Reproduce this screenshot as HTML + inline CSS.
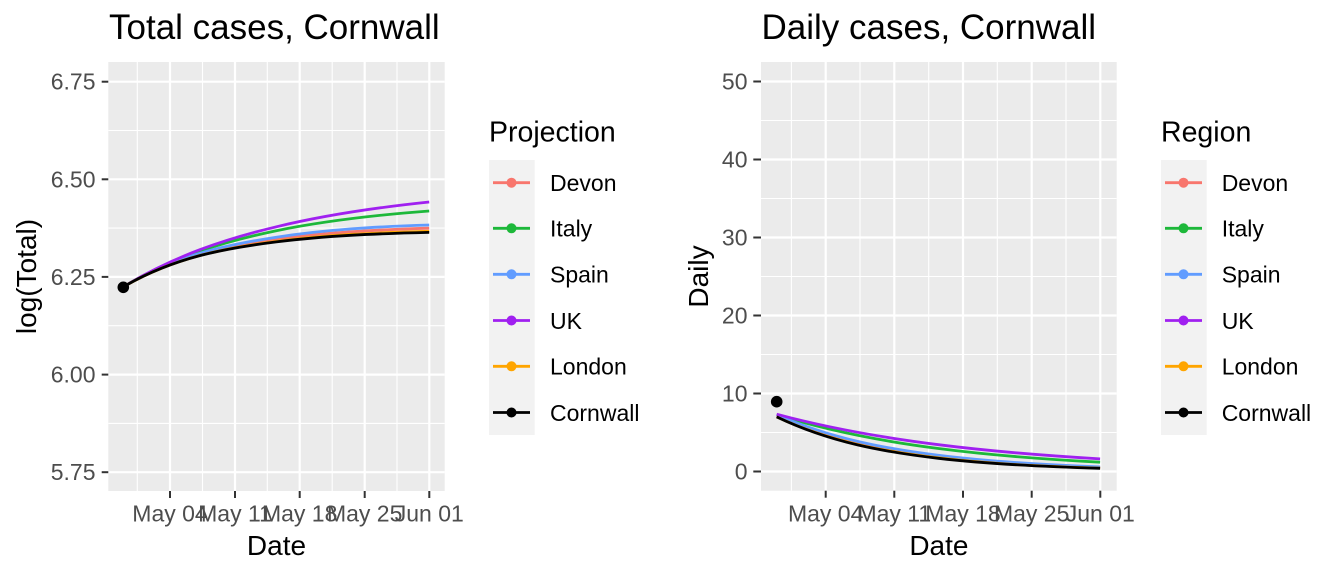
<!DOCTYPE html>
<html><head><meta charset="utf-8">
<style>
html,body{margin:0;padding:0;background:#fff;}
svg{display:block;font-family:"Liberation Sans",Arial,sans-serif;}
</style></head>
<body>
<svg width="1344" height="576" viewBox="0 0 1344 576" xmlns="http://www.w3.org/2000/svg">
<rect width="1344" height="576" fill="#fff"/>

<!-- ============ LEFT PANEL ============ -->
<text x="109" y="39" font-size="35" fill="#000">Total cases, Cornwall</text>
<rect x="108.3" y="62" width="336.4" height="429" fill="#EBEBEB"/>
<g stroke="#fff" stroke-width="1.1" fill="none">
  <line x1="108.3" x2="444.7" y1="130.5" y2="130.5"/>
  <line x1="108.3" x2="444.7" y1="228.1" y2="228.1"/>
  <line x1="108.3" x2="444.7" y1="325.7" y2="325.7"/>
  <line x1="108.3" x2="444.7" y1="423.4" y2="423.4"/>
  <line y1="62" y2="491" x1="137.3" x2="137.3"/>
  <line y1="62" y2="491" x1="202.5" x2="202.5"/>
  <line y1="62" y2="491" x1="267.3" x2="267.3"/>
  <line y1="62" y2="491" x1="332.2" x2="332.2"/>
  <line y1="62" y2="491" x1="397" x2="397"/>
</g>
<g stroke="#fff" stroke-width="2.2" fill="none">
  <line x1="108.3" x2="444.7" y1="81.7" y2="81.7"/>
  <line x1="108.3" x2="444.7" y1="179.3" y2="179.3"/>
  <line x1="108.3" x2="444.7" y1="276.9" y2="276.9"/>
  <line x1="108.3" x2="444.7" y1="374.6" y2="374.6"/>
  <line x1="108.3" x2="444.7" y1="472.2" y2="472.2"/>
  <line y1="62" y2="491" x1="170" x2="170"/>
  <line y1="62" y2="491" x1="235" x2="235"/>
  <line y1="62" y2="491" x1="299.7" x2="299.7"/>
  <line y1="62" y2="491" x1="364.7" x2="364.7"/>
  <line y1="62" y2="491" x1="429.3" x2="429.3"/>
</g>
<g fill="none" stroke-width="2.8" stroke-linecap="butt">
  <path stroke="#F8766D" d="M123.3,286.9 C174.3,256.3 225.3,246.4 276.3,239.3 C327.2,232.2 378.2,229.8 429.2,228.2"/>
  <path stroke="#1DB83A" d="M123.3,286.9 C174.3,255.9 225.3,241.3 276.3,230.7 C327.2,220.3 378.2,214.8 429.2,211.0"/>
  <path stroke="#619CFF" d="M123.3,286.9 C174.3,255.9 225.3,245.0 276.3,237.2 C327.2,229.4 378.2,226.6 429.2,225.0"/>
  <path stroke="#A020F0" d="M123.3,286.9 C174.3,255.7 225.3,239.0 276.3,226.8 C327.2,214.5 378.2,207.3 429.2,202.0"/>
  <path stroke="#FFA500" d="M123.3,286.9 C174.3,257.2 225.3,248.0 276.3,241.4 C327.2,234.7 378.2,232.6 429.2,231.3"/>
  <path stroke="#000000" d="M123.3,286.9 C174.3,257.2 225.3,248.3 276.3,241.9 C327.2,235.5 378.2,233.6 429.2,232.4"/>
</g>
<circle cx="123.3" cy="287.3" r="5.8" fill="#000"/>
<!-- axes ticks -->
<g stroke="#333" stroke-width="2">
  <line x1="101.7" x2="108.3" y1="81.7" y2="81.7"/>
  <line x1="101.7" x2="108.3" y1="179.3" y2="179.3"/>
  <line x1="101.7" x2="108.3" y1="276.9" y2="276.9"/>
  <line x1="101.7" x2="108.3" y1="374.6" y2="374.6"/>
  <line x1="101.7" x2="108.3" y1="472.2" y2="472.2"/>
  <line y1="491" y2="498" x1="170" x2="170"/>
  <line y1="491" y2="498" x1="235" x2="235"/>
  <line y1="491" y2="498" x1="299.7" x2="299.7"/>
  <line y1="491" y2="498" x1="364.7" x2="364.7"/>
  <line y1="491" y2="498" x1="429.3" x2="429.3"/>
</g>
<g font-size="23" fill="#4D4D4D" text-anchor="end">
  <text x="95.5" y="89.7">6.75</text>
  <text x="95.5" y="187.3">6.50</text>
  <text x="95.5" y="284.9">6.25</text>
  <text x="95.5" y="382.6">6.00</text>
  <text x="95.5" y="480.2">5.75</text>
</g>
<g font-size="23" fill="#4D4D4D" text-anchor="middle">
  <text x="170" y="521.7">May 04</text>
  <text x="235" y="521.7">May 11</text>
  <text x="299.7" y="521.7">May 18</text>
  <text x="364.7" y="521.7">May 25</text>
  <text x="429.3" y="521.7">Jun 01</text>
</g>
<text x="276.5" y="555" font-size="28" text-anchor="middle" fill="#000">Date</text>
<text transform="translate(36,276.5) rotate(-90)" font-size="28" text-anchor="middle" fill="#000">log(Total)</text>

<!-- left legend -->
<text x="489" y="141.7" font-size="28.5" fill="#000">Projection</text>
<rect x="489" y="160" width="45.7" height="275" fill="#F2F2F2"/>
<g stroke-width="2.8">
  <line x1="493" x2="530" y1="182.7" y2="182.7" stroke="#F8766D"/>
  <line x1="493" x2="530" y1="228.3" y2="228.3" stroke="#1DB83A"/>
  <line x1="493" x2="530" y1="274.3" y2="274.3" stroke="#619CFF"/>
  <line x1="493" x2="530" y1="320.5" y2="320.5" stroke="#A020F0"/>
  <line x1="493" x2="530" y1="366.3" y2="366.3" stroke="#FFA500"/>
  <line x1="493" x2="530" y1="412.5" y2="412.5" stroke="#000"/>
</g>
<circle cx="511.5" cy="182.7" r="5" fill="#F8766D"/>
<circle cx="511.5" cy="228.3" r="5" fill="#1DB83A"/>
<circle cx="511.5" cy="274.3" r="5" fill="#619CFF"/>
<circle cx="511.5" cy="320.5" r="5" fill="#A020F0"/>
<circle cx="511.5" cy="366.3" r="5" fill="#FFA500"/>
<circle cx="511.5" cy="412.5" r="5" fill="#000"/>
<g font-size="23" fill="#000">
  <text x="550" y="191">Devon</text>
  <text x="550" y="236.6">Italy</text>
  <text x="550" y="282.6">Spain</text>
  <text x="550" y="328.8">UK</text>
  <text x="550" y="374.6">London</text>
  <text x="550" y="420.8">Cornwall</text>
</g>

<!-- ============ RIGHT PANEL ============ -->
<text x="761.5" y="39" font-size="35" fill="#000">Daily cases, Cornwall</text>
<rect x="761" y="62" width="355.7" height="428.7" fill="#EBEBEB"/>
<g stroke="#fff" stroke-width="1.1" fill="none">
  <line x1="761" x2="1116.7" y1="120.5" y2="120.5"/>
  <line x1="761" x2="1116.7" y1="198.5" y2="198.5"/>
  <line x1="761" x2="1116.7" y1="276.5" y2="276.5"/>
  <line x1="761" x2="1116.7" y1="354.5" y2="354.5"/>
  <line x1="761" x2="1116.7" y1="432.5" y2="432.5"/>
  <line y1="62" y2="490.7" x1="791.4" x2="791.4"/>
  <line y1="62" y2="490.7" x1="860" x2="860"/>
  <line y1="62" y2="490.7" x1="928.7" x2="928.7"/>
  <line y1="62" y2="490.7" x1="997.3" x2="997.3"/>
  <line y1="62" y2="490.7" x1="1066" x2="1066"/>
</g>
<g stroke="#fff" stroke-width="2.2" fill="none">
  <line x1="761" x2="1116.7" y1="81.5" y2="81.5"/>
  <line x1="761" x2="1116.7" y1="159.5" y2="159.5"/>
  <line x1="761" x2="1116.7" y1="237.5" y2="237.5"/>
  <line x1="761" x2="1116.7" y1="315.5" y2="315.5"/>
  <line x1="761" x2="1116.7" y1="393.5" y2="393.5"/>
  <line x1="761" x2="1116.7" y1="471.5" y2="471.5"/>
  <line y1="62" y2="490.7" x1="825.7" x2="825.7"/>
  <line y1="62" y2="490.7" x1="894.3" x2="894.3"/>
  <line y1="62" y2="490.7" x1="963" x2="963"/>
  <line y1="62" y2="490.7" x1="1031.7" x2="1031.7"/>
  <line y1="62" y2="490.7" x1="1100.3" x2="1100.3"/>
</g>
<g fill="none" stroke-width="2.8">
  <path stroke="#F8766D" d="M776.7,415.3 C830.6,440.4 884.5,450.2 938.4,456.7 C992.3,463.3 1046.2,465.9 1100.1,467.6"/>
  <path stroke="#1DB83A" d="M776.7,414.6 C830.6,431.8 884.5,441.6 938.4,448.5 C992.3,455.5 1046.2,459.4 1100.1,462.2"/>
  <path stroke="#619CFF" d="M776.7,414.6 C830.6,438.4 884.5,448.5 938.4,455.3 C992.3,462.0 1046.2,464.9 1100.1,466.9"/>
  <path stroke="#A020F0" d="M776.7,414.2 C830.6,428.7 884.5,437.9 938.4,444.7 C992.3,451.5 1046.2,455.7 1100.1,458.9"/>
  <path stroke="#FFA500" d="M776.7,416.9 C830.6,442.1 884.5,451.5 938.4,457.8 C992.3,464.2 1046.2,466.5 1100.1,468.1"/>
  <path stroke="#000000" d="M776.7,416.9 C830.6,442.7 884.5,452.0 938.4,458.3 C992.3,464.5 1046.2,466.8 1100.1,468.3"/>
</g>
<circle cx="776.7" cy="401.7" r="5.8" fill="#000"/>
<g stroke="#333" stroke-width="2">
  <line x1="753.3" x2="761" y1="81.5" y2="81.5"/>
  <line x1="753.3" x2="761" y1="159.5" y2="159.5"/>
  <line x1="753.3" x2="761" y1="237.5" y2="237.5"/>
  <line x1="753.3" x2="761" y1="315.5" y2="315.5"/>
  <line x1="753.3" x2="761" y1="393.5" y2="393.5"/>
  <line x1="753.3" x2="761" y1="471.5" y2="471.5"/>
  <line y1="490.7" y2="497.7" x1="825.7" x2="825.7"/>
  <line y1="490.7" y2="497.7" x1="894.3" x2="894.3"/>
  <line y1="490.7" y2="497.7" x1="963" x2="963"/>
  <line y1="490.7" y2="497.7" x1="1031.7" x2="1031.7"/>
  <line y1="490.7" y2="497.7" x1="1100.3" x2="1100.3"/>
</g>
<g font-size="23" fill="#4D4D4D" text-anchor="end">
  <text x="747.5" y="89.5">50</text>
  <text x="747.5" y="167.5">40</text>
  <text x="747.5" y="245.5">30</text>
  <text x="747.5" y="323.5">20</text>
  <text x="747.5" y="401.5">10</text>
  <text x="747.5" y="479.5">0</text>
</g>
<g font-size="23" fill="#4D4D4D" text-anchor="middle">
  <text x="825.7" y="521.7">May 04</text>
  <text x="894.3" y="521.7">May 11</text>
  <text x="963" y="521.7">May 18</text>
  <text x="1031.7" y="521.7">May 25</text>
  <text x="1100.3" y="521.7">Jun 01</text>
</g>
<text x="938.9" y="555" font-size="28" text-anchor="middle" fill="#000">Date</text>
<text transform="translate(708,276.5) rotate(-90)" font-size="28" text-anchor="middle" fill="#000">Daily</text>

<!-- right legend -->
<text x="1161" y="141.7" font-size="28.5" fill="#000">Region</text>
<rect x="1161" y="160" width="45.7" height="275" fill="#F2F2F2"/>
<g stroke-width="2.8">
  <line x1="1165" x2="1202" y1="182.7" y2="182.7" stroke="#F8766D"/>
  <line x1="1165" x2="1202" y1="228.3" y2="228.3" stroke="#1DB83A"/>
  <line x1="1165" x2="1202" y1="274.3" y2="274.3" stroke="#619CFF"/>
  <line x1="1165" x2="1202" y1="320.5" y2="320.5" stroke="#A020F0"/>
  <line x1="1165" x2="1202" y1="366.3" y2="366.3" stroke="#FFA500"/>
  <line x1="1165" x2="1202" y1="412.5" y2="412.5" stroke="#000"/>
</g>
<circle cx="1183.5" cy="182.7" r="5" fill="#F8766D"/>
<circle cx="1183.5" cy="228.3" r="5" fill="#1DB83A"/>
<circle cx="1183.5" cy="274.3" r="5" fill="#619CFF"/>
<circle cx="1183.5" cy="320.5" r="5" fill="#A020F0"/>
<circle cx="1183.5" cy="366.3" r="5" fill="#FFA500"/>
<circle cx="1183.5" cy="412.5" r="5" fill="#000"/>
<g font-size="23" fill="#000">
  <text x="1221.7" y="191">Devon</text>
  <text x="1221.7" y="236.6">Italy</text>
  <text x="1221.7" y="282.6">Spain</text>
  <text x="1221.7" y="328.8">UK</text>
  <text x="1221.7" y="374.6">London</text>
  <text x="1221.7" y="420.8">Cornwall</text>
</g>
</svg>
</body></html>
